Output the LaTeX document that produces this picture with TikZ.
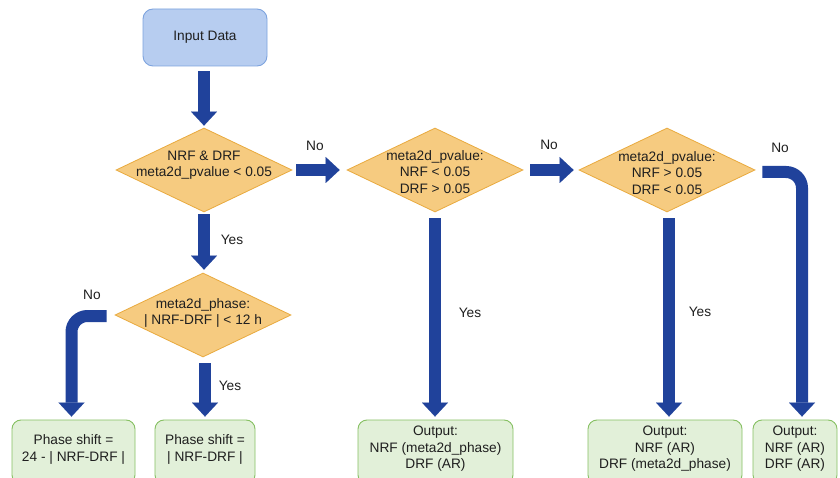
\documentclass[tikz,border=0pt]{standalone}
\usepackage{fontspec}
\setmainfont{Liberation Sans}
\usetikzlibrary{arrows.meta,shapes.geometric}
\definecolor{arrowblue}{RGB}{32,66,155}
\definecolor{inputfill}{RGB}{183,205,240}
\definecolor{inputborder}{RGB}{125,163,222}
\definecolor{diafill}{RGB}{246,203,128}
\definecolor{diaborder}{RGB}{233,170,62}
\definecolor{grfill}{RGB}{226,240,217}
\definecolor{grborder}{RGB}{134,192,98}
\begin{document}
\begin{tikzpicture}[x=1pt,y=-1pt,
  font=\fontsize{13.7}{16.5}\selectfont,
  txt/.style={align=center,text=black!88,inner sep=0pt},
  dia/.style={diamond,draw=diaborder,fill=diafill,line width=0.8pt,
    minimum width=176pt,minimum height=84pt,inner sep=0pt,aspect=2.1},
  inbox/.style={rectangle,rounded corners=10pt,draw=inputborder,fill=inputfill,
    line width=0.9pt,minimum width=124pt,minimum height=57pt,inner sep=0pt,text=black!88},
  grbox/.style={rectangle,rounded corners=9pt,draw=grborder,fill=grfill,
    line width=0.9pt,minimum height=64pt,inner sep=0pt},
  barrow/.style={draw=arrowblue,line width=12pt,
    -{Triangle[width=26pt,length=14pt,line width=0.01pt]}},
  lbl/.style={text=black!88,inner sep=0pt}]
\useasboundingbox (0,0) rectangle (840,478);
\fill[white] (0,0) rectangle (840,478);

% nodes
\node[inbox] (input) at (205,37.5) {Input Data};
\node[dia,label={[txt,yshift=5pt]center:{NRF \& DRF\\meta2d\_pvalue < 0.05}}] (d1) at (204,170) {};
\node[dia,label={[txt,yshift=-2pt]center:{meta2d\_pvalue:\\NRF < 0.05\\DRF > 0.05}}] (d2) at (435,170) {};
\node[dia,label={[txt,yshift=-3pt]center:{meta2d\_pvalue:\\NRF > 0.05\\DRF < 0.05}}] (d3) at (667,170) {};
\node[dia,label={[txt,yshift=2pt]center:{meta2d\_phase:\\| NRF-DRF | < 12 h}}] (d4) at (203,315) {};

\node[grbox,minimum width=123pt,label={[txt,yshift=2.5pt]center:{Phase shift =\\24 - | NRF-DRF |}}] (ps1) at (73.5,452) {};
\node[grbox,minimum width=100pt,label={[txt,yshift=2.5pt]center:{Phase shift =\\| NRF-DRF |}}] (ps2) at (205,452) {};
\node[grbox,minimum width=155pt,label={[txt,yshift=3pt]center:{Output:\\NRF (meta2d\_phase)\\DRF (AR)}}] (outA) at (435.5,452) {};
\node[grbox,minimum width=154pt,label={[txt,yshift=3pt]center:{Output:\\NRF (AR)\\DRF (meta2d\_phase)}}] (outB) at (665,452) {};
\node[grbox,minimum width=84pt,label={[txt,yshift=3pt]center:{Output:\\NRF (AR)\\DRF (AR)}}] (outC) at (795,452) {};

% connectors
\draw[barrow,shorten <=5pt,shorten >=2pt] (input.south -| d1.north) -- (d1.north);
\draw[barrow,shorten <=4pt,shorten >=7pt] (d1.east) -- (d2.west);
\draw[barrow,shorten <=7pt,shorten >=5pt] (d2.east) -- (d3.west);
\draw[barrow,rounded corners=16pt] ([xshift=7pt,yshift=-2pt]d3.east) -| ([xshift=7pt,yshift=3pt]outC.north);
\draw[barrow,shorten <=6pt,shorten >=3pt] (d2.south) -- (d2.south |- outA.north);
\draw[barrow,shorten <=6pt,shorten >=3pt] ([xshift=2pt]d3.south) -- ([xshift=2pt]d3.south |- outB.north);
\draw[barrow,shorten <=2pt,shorten >=3pt] (d1.south) -- (d1.south |- d4.north);
\draw[barrow,shorten <=6pt,shorten >=3pt] ([xshift=2pt]d4.south) -- ([xshift=2pt]d4.south |- ps2.north);
\draw[barrow,rounded corners=16pt] ([xshift=-8pt,yshift=-1pt]d4.west) -| ([xshift=-2pt,yshift=3pt]ps1.north);

% labels
\node[lbl] (no1) at (315,146) {No};
\node[lbl] (no2) at (549,145) {No};
\node[lbl] (no3) at (780,148) {No};
\node[lbl] (no4) at (92,295) {No};
\node[lbl] (yes1) at (232,240) {Yes};
\node[lbl] (yes2) at (230,386) {Yes};
\node[lbl] (yes3) at (470,313) {Yes};
\node[lbl] (yes4) at (700,312) {Yes};
\end{tikzpicture}
\end{document}
